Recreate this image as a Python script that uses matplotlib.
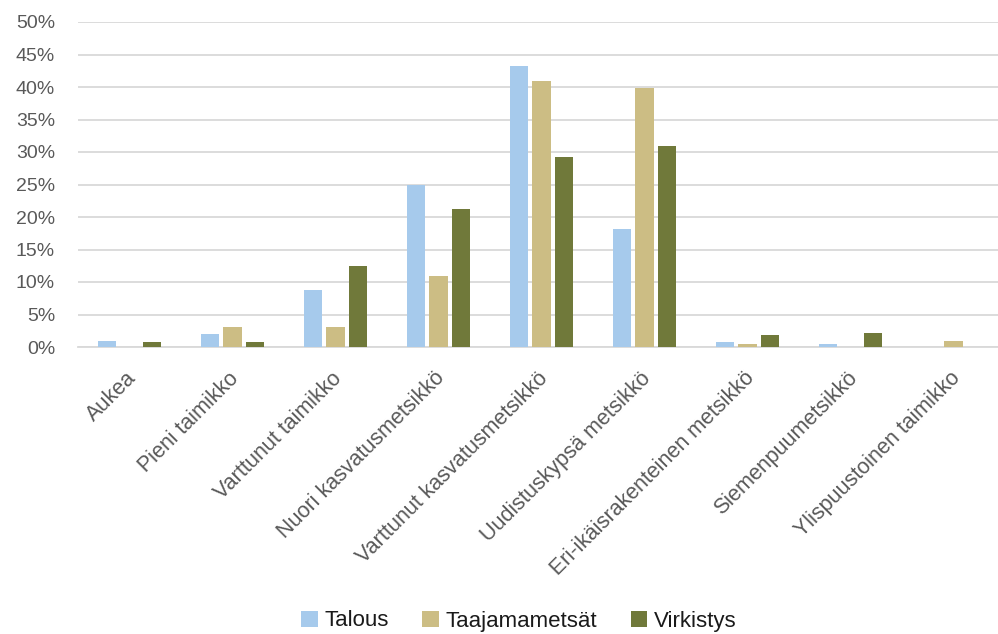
import numpy as np
import matplotlib.pyplot as plt
import matplotlib.transforms as mtransforms
from matplotlib.ticker import PercentFormatter

plt.rcParams['font.family'] = ['Liberation Sans', 'DejaVu Sans']

categories = ["Aukea", "Pieni taimikko", "Varttunut taimikko", "Nuori kasvatusmetsikkö",
              "Varttunut kasvatusmetsikkö", "Uudistuskypsä metsikkö",
              "Eri-ikäisrakenteinen metsikkö", "Siemenpuumetsikkö", "Ylispuustoinen taimikko"]
talous = [0.9, 2.0, 8.8, 25.0, 43.2, 18.1, 0.8, 0.5, 0.0]
taajamametsat = [0.0, 3.1, 3.1, 11.0, 41.0, 39.9, 0.5, 0.0, 0.9]
virkistys = [0.7, 0.8, 12.4, 21.2, 29.3, 30.9, 1.8, 2.2, 0.0]

series = [("Talous", talous, "#A6CAEC"),
          ("Taajamametsät", taajamametsat, "#CCBD84"),
          ("Virkistys", virkistys, "#70793A")]

fig = plt.figure(figsize=(9.98, 6.34), dpi=100)
# plot area runs slightly past the right edge of the picture, as in the original
ax = fig.add_axes([78 / 998, 1 - 347 / 634, 927 / 998, 325 / 634])

x = np.arange(len(categories))
step = 0.22
width = 0.175
for i, (name, vals, col) in enumerate(series):
    ax.bar(x + (i - 1) * step, vals, width, color=col, label=name, zorder=3)

ax.set_xlim(-0.5, len(categories) - 0.5)
ax.set_ylim(0, 50)
ax.set_yticks(np.arange(0, 51, 5))
ax.yaxis.set_major_formatter(PercentFormatter(decimals=0))
ax.grid(axis="y", color="#D9D9D9", linewidth=1.3, zorder=0)
for s in ["top", "right", "left"]:
    ax.spines[s].set_visible(False)
ax.spines["bottom"].set_color("#D9D9D9")
ax.spines["bottom"].set_linewidth(1.3)
ax.tick_params(axis="y", length=0, colors="#595959", labelsize=14, pad=16.5)
ax.tick_params(axis="x", length=0, colors="#595959", labelsize=15.5, pad=15)
ax.set_xticks(x)
ax.set_xticklabels(categories, rotation=45, ha="right", rotation_mode="anchor")
shift = mtransforms.ScaledTranslation(-4 / 100, 0, fig.dpi_scale_trans)
for lbl in ax.get_xticklabels():
    lbl.set_transform(lbl.get_transform() + shift)

fig.legend(loc="center", ncol=3, frameon=False, fontsize=16,
           bbox_to_anchor=(0.52, 1 - 621 / 634), handlelength=0.75, handleheight=0.75,
           handletextpad=0.3, columnspacing=1.5, labelcolor="#1a1a1a")

fig.savefig("out.png", dpi=100)
